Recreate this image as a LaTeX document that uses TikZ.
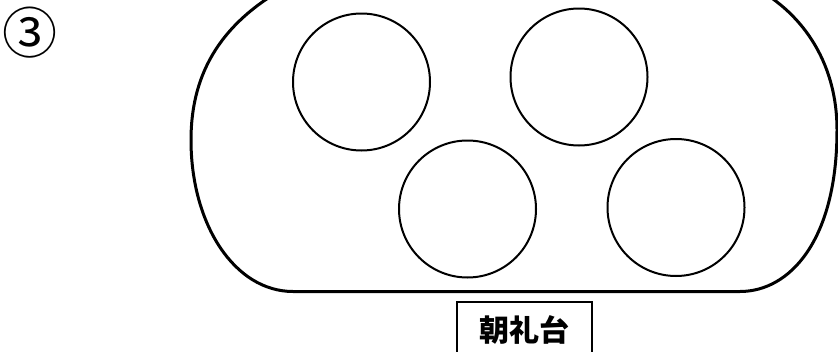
\documentclass[tikz,border=0pt]{standalone}
\usepackage{fontspec}
\newfontfamily\jpfont{Noto Sans CJK JP}
\usetikzlibrary{positioning}

\begin{document}
\begin{tikzpicture}[x=1pt,y=-1pt,
    ring/.style={circle, draw=black, line width=2pt, minimum size=137pt, inner sep=0pt},
    stage/.style={draw=black, line width=1.3pt, minimum width=135pt, minimum height=56pt, inner sep=0pt,
                  font=\jpfont\bfseries\fontsize{30}{30}\selectfont}]

    \clip (0,0) rectangle (838,351);

    % number
    \node[font=\jpfont\fontsize{55}{55}\selectfont] (num) at (30,33) {③};

    % outline of the ground
    \draw[line width=3pt] (290,-15) .. controls (215,25) and (191,80) .. (191,140)
        .. controls (191,225) and (235,291.5) .. (293,291.5) -- (740,291.5)
        .. controls (790,291.5) and (837,240) .. (837,130)
        .. controls (837,60) and (800,10) .. (750,-15);

    % circles
    \foreach \pos/\name in {{(361.5,82)/c1}, {(579,77)/c2}, {(467.5,209)/c3}, {(676,207.5)/c4}}
        \node[ring] (\name) at \pos {};

    % stage
    \node[stage] (dai) at (524.5,330) {朝礼台};

\end{tikzpicture}
\end{document}
